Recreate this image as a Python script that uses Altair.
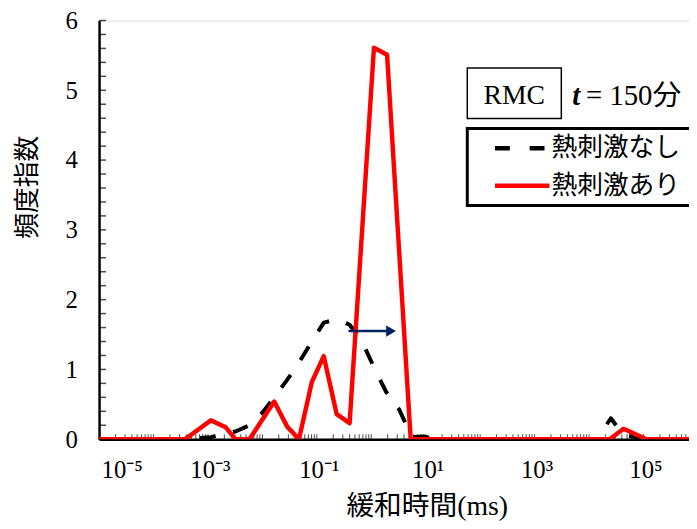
import altair as alt
import pandas as pd

# ---------------- data ----------------
# 熱刺激なし (black dashed)
BLACK_T = [1e-5, 3.8e-4, 1.13e-3, 2.12e-3, 3.2e-3, 5.8e-3, 0.01, 0.0165, 0.0285, 0.047,
           0.081, 0.134, 0.231, 0.40, 0.658, 1.12, 1.87, 3.23, 5.56, 9.2, 15.1,
           13960, 25120, 41690, 69180, 113500, 1e6]
BLACK_V = [0, 0, 0.03, 0.08, 0.11, 0.2, 0.38, 0.6, 0.85, 1.1,
           1.4, 1.67, 1.72, 1.64, 1.42, 1.03, 0.68, 0.43, 0.03, 0.04, 0,
           0, 0.3, 0.07, 0.03, 0, 0]

# 熱刺激あり (red solid)
RED_T = [1e-5, 3.8e-4, 1.13e-3, 2.12e-3, 3.2e-3, 5.8e-3, 0.0165, 0.0285, 0.047, 0.081,
         0.134, 0.231, 0.40, 1.12, 1.95, 5.3, 24000, 43000, 113500, 1e6]
RED_V = [0, 0, 0.27, 0.17, 0, 0, 0.54, 0.18, 0, 0.82,
         1.19, 0.36, 0.23, 5.61, 5.51, 0, 0, 0.15, 0, 0]

# arrow (shift of the peak)
ARROW_T = [0.382, 2.31]
ARROW_V = [1.55, 1.55]

X_TICKS = [1e-5, 1e-3, 1e-1, 1e1, 1e3, 1e5]
X_TICK_LABELS = ["10⁻⁵", "10⁻³", "10⁻¹", "10¹", "10³", "10⁵"]
Y_TICKS = [0, 1, 2, 3, 4, 5, 6]
Y_MINOR = [i / 5 for i in range(31)]
X_MINOR = [m * 10.0 ** e for e in range(-5, 6) for m in range(1, 10)]

LEGEND_LABELS = ["熱刺激なし", "熱刺激あり"]
SERIES_COLORS = ["#000000", "#FF0000"]

SERIF = "Liberation Serif"
SANS = "Noto Sans CJK JP"
MIXED = "'Liberation Serif', 'Noto Sans CJK JP'"

W, H = 596, 423

# ---------------- encodings ----------------
x_scale = alt.Scale(type="log", domain=[1e-5, 6.855e5], nice=False)
y_scale = alt.Scale(domain=[0, 6], nice=False, zero=True)

label_expr = " : ".join(
    f"datum.value < {v * 3} ? '{lab}'" for v, lab in zip(X_TICKS[:-1], X_TICK_LABELS[:-1])
) + f" : '{X_TICK_LABELS[-1]}'"

x_axis = alt.Axis(
    values=X_TICKS, labelExpr=label_expr, title="緩和時間(ms)",
    grid=False, ticks=False, tickSize=0, domainColor="black", domainWidth=2.5,
    labelFont=SERIF, labelFontSize=25, labelColor="black", labelPadding=19,
    labelBaseline="top", labelOffset=2, labelOverlap=False,
    titleFont=MIXED, titleFontSize=28, titleFontWeight="normal", titleColor="black",
    titleX=331, titleY=68, titleBaseline="middle", titleAlign="center",
)
y_axis = alt.Axis(
    values=Y_TICKS, format="d", title="頻度指数",
    grid=False, ticks=False, tickSize=0, domainColor="black", domainWidth=2.5,
    labelFont=SERIF, labelFontSize=25, labelColor="black", labelPadding=22,
    labelFlush=False, labelOverlap=False,
    titleFont=SANS, titleFontSize=26, titleFontWeight="normal", titleColor="black",
    titleX=-72, titleY=168, titleAngle=270, titleBaseline="middle", titleAlign="center",
)


def X():
    return alt.X("x:Q", scale=x_scale, axis=x_axis)


def Y():
    return alt.Y("y:Q", scale=y_scale, axis=y_axis)


black_df = pd.DataFrame({"x": BLACK_T, "y": BLACK_V})
red_df = pd.DataFrame({"x": RED_T, "y": RED_V})
arrow_df = pd.DataFrame({"x": ARROW_T, "y": ARROW_V})
ymin_df = pd.DataFrame({"y": Y_MINOR})
xmin_df = pd.DataFrame({"x": X_MINOR})

black = alt.Chart(black_df).mark_line(
    color=SERIES_COLORS[0], strokeWidth=4, strokeDash=[16, 18], clip=True, strokeJoin="round"
).encode(x=X(), y=Y())

red = alt.Chart(red_df).mark_line(
    color=SERIES_COLORS[1], strokeWidth=4.5, clip=True, strokeJoin="round"
).encode(x=X(), y=Y())

arrow_line = alt.Chart(arrow_df).mark_line(color="#002060", strokeWidth=2.5).encode(x=X(), y=Y())
arrow_head = alt.Chart(arrow_df.tail(1)).mark_point(
    shape="triangle-right", filled=True, color="#002060", size=130, opacity=1
).encode(x=X(), y=Y())

y_minor = alt.Chart(ymin_df).mark_tick(
    orient="horizontal", color="black", thickness=1.5, size=7
).encode(y=Y(), x=alt.value(3.5))

x_minor = alt.Chart(xmin_df).mark_tick(
    orient="vertical", color="black", thickness=1, size=5, clip=True
).encode(x=X(), y=alt.value(H - 2.5))

# ---------------- annotation boxes / legend ----------------
rmc_box = alt.Chart(pd.DataFrame({"a": [0]})).mark_rect(
    fill="white", stroke="black", strokeWidth=1.5
).encode(x=alt.value(372), x2=alt.value(467), y=alt.value(48), y2=alt.value(99))
rmc_text = alt.Chart(pd.DataFrame({"a": [0]})).mark_text(
    text="RMC", font=SERIF, fontSize=28, color="black", align="center", baseline="middle"
).encode(x=alt.value(419.5), y=alt.value(76))
t_text = alt.Chart(pd.DataFrame({"a": [0]})).mark_text(
    text="t", font=SERIF, fontSize=29, fontStyle="italic", fontWeight="bold",
    color="black", align="left", baseline="middle"
).encode(x=alt.value(478), y=alt.value(76))
t_rest = alt.Chart(pd.DataFrame({"a": [0]})).mark_text(
    text="= 150分", font=MIXED, fontSize=29, color="black", align="left", baseline="middle"
).encode(x=alt.value(492), y=alt.value(76))

leg_box = alt.Chart(pd.DataFrame({"a": [0]})).mark_rect(
    fill="white", stroke="black", strokeWidth=3
).encode(x=alt.value(372), x2=alt.value(640), y=alt.value(109), y2=alt.value(187))
leg_black = alt.Chart(pd.DataFrame({"a": [0]})).mark_rule(
    color=SERIES_COLORS[0], strokeWidth=4.5, strokeDash=[15, 20]
).encode(x=alt.value(400), x2=alt.value(455), y=alt.value(129))
leg_red = alt.Chart(pd.DataFrame({"a": [0]})).mark_rule(
    color=SERIES_COLORS[1], strokeWidth=4.5
).encode(x=alt.value(400), x2=alt.value(455), y=alt.value(167))
leg_t1 = alt.Chart(pd.DataFrame({"a": [0]})).mark_text(
    text=LEGEND_LABELS[0], font=SANS, fontSize=26, color="black", align="left", baseline="middle"
).encode(x=alt.value(457), y=alt.value(129))
leg_t2 = alt.Chart(pd.DataFrame({"a": [0]})).mark_text(
    text=LEGEND_LABELS[1], font=SANS, fontSize=26, color="black", align="left", baseline="middle"
).encode(x=alt.value(457), y=alt.value(167))

chart = alt.layer(
    x_minor, y_minor, black, red, arrow_line, arrow_head,
    rmc_box, rmc_text, t_text, t_rest,
    leg_box, leg_black, leg_red, leg_t1, leg_t2,
).properties(
    width=W, height=H, autosize="none",
    padding={"left": 92, "top": 10, "right": 0, "bottom": 80},
).configure_view(stroke=None).configure(background="white")

chart.save("out.html", embed_options={"renderer": "svg", "actions": False})
